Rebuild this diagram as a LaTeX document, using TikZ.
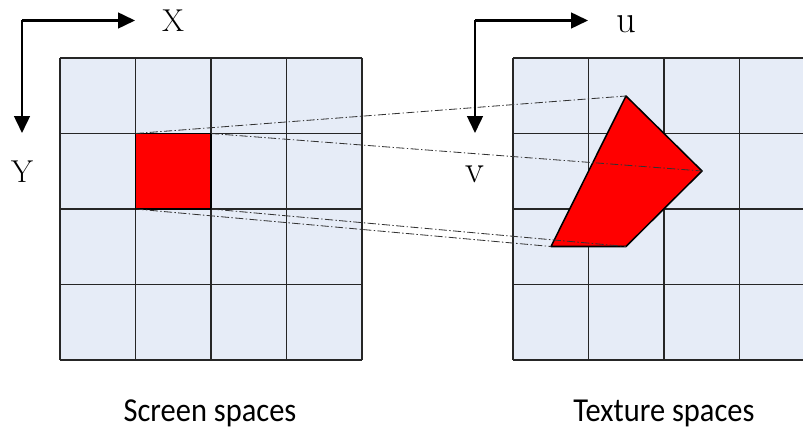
\documentclass[tikz,border=0pt]{standalone}
\usepackage{fontspec}
\setsansfont{Carlito}
\usepackage{xcolor}
\usepackage{graphicx}
\usepackage{tikz}
\usetikzlibrary{arrows.meta, positioning, calc}
\definecolor{cellblue}{RGB}{230,236,247}

\begin{document}
\begin{tikzpicture}[x=0.03cm, y=-0.03cm,
    gridline/.style={draw=black!85, line width=0.9pt},
    axis/.style={-{Triangle[length=14.5pt, width=13.5pt]}, line width=1.8pt},
    proj/.style={black!80, line width=0.7pt,
                 dash pattern=on 7pt off 2pt on 1.2pt off 2pt},
    axlabel/.style={font=\fontsize{27}{30}\selectfont},
    ulabel/.style={font=\fontsize{33}{36}\selectfont},
    caption/.style={font=\sffamily\fontsize{26}{30}\selectfont, anchor=base}
  ]
  \useasboundingbox (0,0) rectangle (803,432);
  \clip (0,0) rectangle (803,432);
  % Screen and texture grids
  \foreach \gx in {60,513} {
    \fill[cellblue] (\gx,58) rectangle ++(302,302);
    \foreach \k in {0,...,4} {
      \draw[gridline] (\gx+75.5*\k,58) -- ++(0,302);
      \draw[gridline] (\gx,58+75.5*\k) -- ++(302,0);
    }
  }
  % Screen pixel
  \coordinate (s1) at (135.5,133.5);
  \coordinate (s2) at (211,133.5);
  \coordinate (s3) at (211,209);
  \coordinate (s4) at (135.5,209);
  \draw[fill=red, line width=0.9pt] (s1) -- (s2) -- (s3) -- (s4) -- cycle;
  % Texture footprint
  \coordinate (t1) at (626,96);
  \coordinate (t2) at (702,171);
  \coordinate (t3) at (626,246.5);
  \coordinate (t4) at (551,246.5);
  \draw[fill=red, line width=1.3pt, line join=round]
    (t1) -- (t2) -- (t3) -- (t4) -- cycle;
  % Projection lines
  \draw[proj] (s1) -- (t1);
  \draw[proj] (s2) -- (t2);
  \draw[proj] (s3) -- (t3);
  \draw[proj] (s4) -- (t4);
  % Screen axes
  \coordinate (o1) at (22,20.5);
  \coordinate (xend) at (135,20.5);
  \coordinate (yend) at (22,133);
  \draw[axis] (o1) -- (xend);
  \draw[axis] (o1) -- (yend);
  \node[axlabel] (xlab) at (173,21) {X};
  \node[axlabel] (ylab) at (22,171.5) {Y};
  % Texture axes
  \coordinate (o2) at (475,20.5);
  \coordinate (uend) at (588,20.5);
  \coordinate (vend) at (475,133);
  \draw[axis] (o2) -- (uend);
  \draw[axis] (o2) -- (vend);
  \node[ulabel] (ulab) at (626,24) {u};
  \node[ulabel] (vlab) at (475,174.5) {v};
  % Captions
  \node[caption] (scap) at (210,422) {\scalebox{1}[1.1]{Screen spaces}};
  \node[caption] (tcap) at (664,422) {\scalebox{1}[1.1]{Texture spaces}};
\end{tikzpicture}
\end{document}
